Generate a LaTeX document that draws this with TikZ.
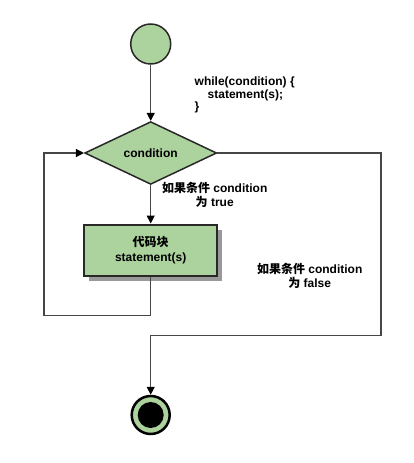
\documentclass[tikz,border=0pt]{standalone}
\usepackage{fontspec}
\setmainfont{Liberation Sans}
\newfontfamily\cjk{Noto Sans CJK SC}
\usetikzlibrary{shapes.geometric,arrows.meta,shadows}
\definecolor{nodegreen}{RGB}{172,210,158}
\definecolor{linegray}{RGB}{70,70,70}
\definecolor{borderdark}{RGB}{40,40,40}
\begin{document}
\begin{tikzpicture}[x=1pt,y=-1pt,
  conn/.style={draw=linegray,line width=1.3pt},
  arr/.style={conn,-{Triangle[length=8pt,width=8pt,color=black]}},
  lbl/.style={font=\bfseries\fontsize{12}{14}\selectfont,inner sep=0pt},
  greennode/.style={draw=borderdark,fill=nodegreen,inner sep=0pt},
 ]
\useasboundingbox[fill=white] (0,0) rectangle (414,463);
% nodes
\node[greennode,circle,line width=1.5pt,minimum size=40pt] (start) at (150.7,44) {};
\node[greennode,diamond,line width=1.5pt,minimum width=132pt,minimum height=60pt,lbl] (cond) at (150.7,153) {condition};
\node[greennode,rectangle,line width=2pt,minimum width=133pt,minimum height=51pt,align=center,lbl,
  drop shadow={shadow xshift=5pt,shadow yshift=-5pt,fill=black!40,opacity=1}] (block) at (150.7,250)
  {{\cjk\bfseries 代码块}\\[1pt]statement(s)};
\node[circle,draw=black,line width=2.5pt,fill=nodegreen,minimum size=38pt,inner sep=0pt] (stop) at (150.7,415) {};
\node[circle,fill=black,minimum size=26pt,inner sep=0pt] (stopin) at (stop.center) {};
% code text
\node[lbl,anchor=base west] (code1) at (194.5,85.5) {while(condition) \{};
\node[lbl,anchor=base west] (code2) at (207.5,98) {statement(s);};
\node[lbl,anchor=base west] (code3) at (194.5,110.5) {\}};
% branch labels
\node[lbl,align=center] (truelbl) at (214.7,195) {{\cjk\bfseries 如果条件} condition\\{\cjk\bfseries 为} true};
\node[lbl,align=center] (falselbl) at (309.7,275.5) {{\cjk\bfseries 如果条件} condition\\{\cjk\bfseries 为} false};
% corner coordinates
\coordinate (l1) at (150.7,315.7);
\coordinate (l2) at (44,315.7);
\coordinate (l3) at (44,153);
\coordinate (r1) at (381,153);
\coordinate (r2) at (381,335.7);
\coordinate (r3) at (150.7,335.7);
% connectors
\draw[arr] (start) -- (cond);
\draw[arr] (cond) -- (block);
\draw[arr] (block.south) -- (l1) -- (l2) -- (l3) -- (cond.west);
\draw[arr] (cond.east) -- (r1) -- (r2) -- (r3) -- (stop.north);
\end{tikzpicture}
\end{document}
